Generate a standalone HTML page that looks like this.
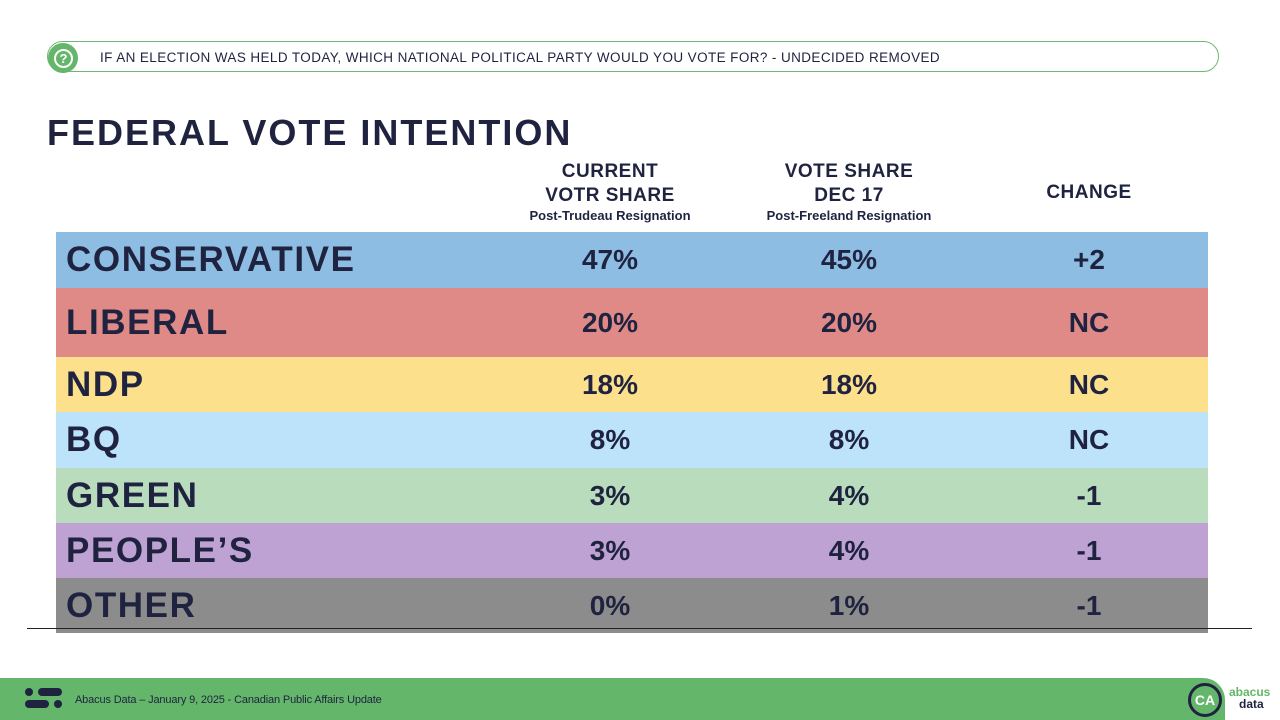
<!DOCTYPE html>
<html><head><meta charset="utf-8">
<style>
body{margin:0;width:1280px;height:720px;background:#fff;position:relative;overflow:hidden;font-family:"Liberation Sans",sans-serif;color:#1f2340}
.abs{position:absolute}
.q{left:47px;top:41px;width:1172px;height:31px;border:1px solid #6fb86f;border-radius:16px;box-sizing:border-box}
.qt{left:100px;top:50px;font-size:13.5px;letter-spacing:0.4px}
h1{position:absolute;left:47px;top:112px;margin:0;font-size:36px;font-weight:bold;letter-spacing:2px}
.hd{text-align:center;font-weight:bold;font-size:19px;line-height:24px;width:240px;letter-spacing:0.5px}
.sub{font-size:13px;line-height:16px;letter-spacing:0}
.row{left:56px;width:1152px}
.cell{position:absolute;top:0;height:100%;display:flex;align-items:center;font-weight:bold}
</style></head><body>
<div class="abs q"></div>
<div class="abs" style="left:48px;top:43px;width:30px;height:30px;border-radius:50%;background:#64b66a"><div style="position:absolute;left:6px;top:6px;width:15px;height:15px;border:2px solid #fff;border-radius:50%;color:#fff;font-size:13px;font-weight:bold;text-align:center;line-height:15px">?</div></div>
<div class="abs qt">IF AN ELECTION WAS HELD TODAY, WHICH NATIONAL POLITICAL PARTY WOULD YOU VOTE FOR? - UNDECIDED REMOVED</div>
<h1>FEDERAL VOTE INTENTION</h1>
<div class="abs hd" style="left:490px;top:160px">CURRENT<br>VOTR SHARE<div class="sub">Post-Trudeau Resignation</div></div>
<div class="abs hd" style="left:729px;top:160px">VOTE SHARE<br>DEC 17<div class="sub">Post-Freeland Resignation</div></div>
<div class="abs hd" style="left:969px;top:181px">CHANGE</div>
<div id="tbl"></div>
<div class="abs" style="left:27px;top:628px;width:1225px;height:1px;background:#222"></div>
<div class="abs" style="left:0;top:678px;width:1225px;height:42px;background:#64b66a;border-radius:0 22px 0 0"></div>
<div class="abs" style="left:25px;top:688px">
<div class="abs" style="left:0;top:0;width:8px;height:8px;border-radius:50%;background:#1f2340"></div>
<div class="abs" style="left:13px;top:0;width:24px;height:8px;border-radius:4px;background:#1f2340"></div>
<div class="abs" style="left:0;top:12px;width:24px;height:8px;border-radius:4px;background:#1f2340"></div>
<div class="abs" style="left:29px;top:12px;width:8px;height:8px;border-radius:50%;background:#1f2340"></div></div>
<div class="abs" style="left:75px;top:694px;font-size:11px;letter-spacing:-0.15px;color:#1f2340">Abacus Data – January 9, 2025 - Canadian Public Affairs Update</div>
<div class="abs" style="left:1188px;top:683px;width:28px;height:28px;border:3px solid #1f2340;border-radius:50%;color:#fff;font-weight:bold;font-size:14px;text-align:center;line-height:28px">CA</div>
<div class="abs" style="left:1229px;top:686px;font-size:12px;font-weight:bold;line-height:12px;color:#64b66a">abacus<br><span style="color:#1f2340;padding-left:10px">data</span></div>
<script>
const parties=["CONSERVATIVE","LIBERAL","NDP","BQ","GREEN","PEOPLE’S","OTHER"];
const current=[47,20,18,8,3,3,0];
const dec17=[45,20,18,8,4,4,1];
const colors=["#8dbde3","#e08a88","#fde08c","#bde3fb","#b9ddbc","#bea2d3","#8c8c8c"];
const rowEdges=[232,288,357,412,468,523,578,633];
const tbl=document.getElementById('tbl');
function chg(a,b){const d=a-b;return d===0?"NC":(d>0?"+"+d:""+d);}
parties.forEach((p,i)=>{
 const r=document.createElement('div');
 r.className='abs row';
 
 
 r.style.top=rowEdges[i]+'px';r.style.height=(rowEdges[i+1]-rowEdges[i])+'px';r.style.background=colors[i];
 const n=document.createElement('div');n.className='cell';n.style.left='10px';n.style.fontSize='35px';n.style.letterSpacing='1.6px';n.textContent=p;
 
 
 r.appendChild(n);
 [[current[i]+'%',554],[dec17[i]+'%',793],[chg(current[i],dec17[i]),1033]].forEach((v,k)=>{
  const c=document.createElement('div');c.className='cell';c.style.left=(v[1]-100)+'px';c.style.width='200px';c.style.justifyContent='center';c.style.fontSize='28px';c.textContent=v[0];
  
  
  r.appendChild(c);
 });
 tbl.appendChild(r);
});
</script>
</body></html>
